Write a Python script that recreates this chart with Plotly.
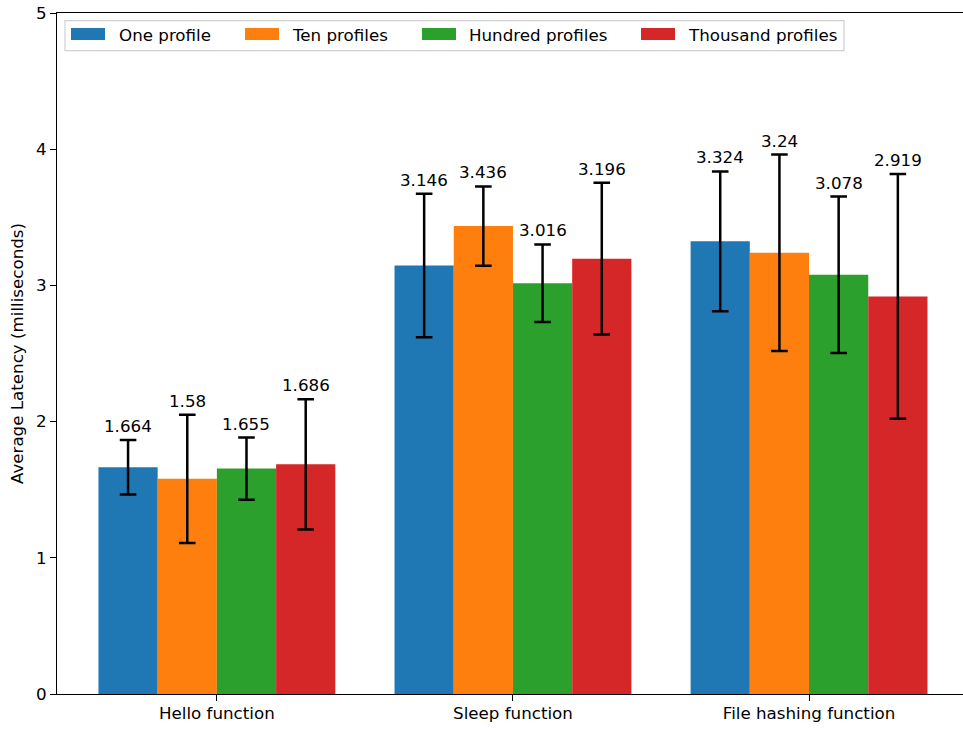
import plotly.graph_objects as go

# Benchmark data: average latency per function, by number of profiles
functions = ["Hello function", "Sleep function", "File hashing function"]
series_names = ["One profile", "Ten profiles", "Hundred profiles", "Thousand profiles"]

one_profile = [1.664, 3.146, 3.324]
ten_profiles = [1.58, 3.436, 3.24]
hundred_profiles = [1.655, 3.016, 3.078]
thousand_profiles = [1.686, 3.196, 2.919]

one_profile_err = [0.20, 0.527, 0.513]
ten_profiles_err = [0.471, 0.291, 0.721]
hundred_profiles_err = [0.228, 0.285, 0.574]
thousand_profiles_err = [0.479, 0.557, 0.898]

y_ticks = [0, 1, 2, 3, 4, 5]

colors = ["#1f77b4", "#ff7f0e", "#2ca02c", "#d62728"]
values = [one_profile, ten_profiles, hundred_profiles, thousand_profiles]
errors = [one_profile_err, ten_profiles_err, hundred_profiles_err, thousand_profiles_err]

FONT = "DejaVu Sans"
FS = 16.7
W, H = 963, 729
ML, MR, MT, MB = 57, 0, 13, 35
bar_w = 0.2

fig = go.Figure()
annotations = []
for i, (name, vals, errs, col) in enumerate(zip(series_names, values, errors, colors)):
    xs = [g + (i - 1.5) * bar_w for g in range(len(functions))]
    fig.add_trace(go.Bar(
        x=xs, y=vals, width=bar_w, name=name,
        marker=dict(color=col, line=dict(width=0)),
        error_y=dict(type="data", array=errs, visible=True,
                     color="black", thickness=2.5, width=8.3),
        showlegend=False,
    ))
    for x, v, e in zip(xs, vals, errs):
        annotations.append(dict(
            x=x, y=v + e, xref="x", yref="y", text=f"{v:g}",
            showarrow=False, yanchor="bottom", xanchor="center", yshift=2,
            font=dict(family=FONT, size=FS, color="black"),
        ))

# Legend box drawn in pixel space, converted to paper coordinates
pw = W - ML - MR
ph = H - MT - MB


def px_x(p):
    return (p - ML) / pw


def px_y(p):
    return (H - MB - p) / ph


shapes = [dict(type="rect", xref="paper", yref="paper",
               x0=px_x(65), x1=px_x(844), y0=px_y(50.7), y1=px_y(20.7),
               line=dict(color="#d0d0d0", width=1.2),
               fillcolor="rgba(255,255,255,0.8)", layer="above")]
swatch_left = [71, 245, 422, 641]
text_left = [117, 290, 467, 686]
for name, col, sx, tx in zip(series_names, colors, swatch_left, text_left):
    shapes.append(dict(type="rect", xref="paper", yref="paper",
                       x0=px_x(sx), x1=px_x(sx + 34), y0=px_y(40), y1=px_y(28),
                       line=dict(width=0), fillcolor=col, layer="above"))
    annotations.append(dict(x=px_x(tx), y=px_y(34.5), xref="paper", yref="paper",
                            text=name, showarrow=False, xanchor="left", yanchor="middle",
                            font=dict(family=FONT, size=FS, color="black")))

fig.update_layout(
    width=W, height=H,
    margin=dict(l=ML, r=MR, t=MT, b=MB, pad=0),
    plot_bgcolor="white", paper_bgcolor="white",
    font=dict(family=FONT, size=FS, color="black"),
    shapes=shapes, annotations=annotations,
    xaxis=dict(range=[-0.54, 2.52], tickvals=list(range(len(functions))), ticktext=functions,
               showline=True, linecolor="black", linewidth=1.3, mirror=True,
               ticks="outside", ticklen=6, tickwidth=1.3, tickcolor="black",
               ticklabelstandoff=-2,
               showgrid=False, zeroline=False, tickfont=dict(family=FONT, size=FS)),
    yaxis=dict(range=[0, 5], tickvals=y_ticks,
               showline=True, linecolor="black", linewidth=1.3,
               ticks="outside", ticklen=6, tickwidth=1.3, tickcolor="black",
               showgrid=False, zeroline=False, tickfont=dict(family=FONT, size=FS),
               title=dict(text="Average Latency (milliseconds)", standoff=8,
                          font=dict(family=FONT, size=FS))),
)

fig.write_html("out.html")
